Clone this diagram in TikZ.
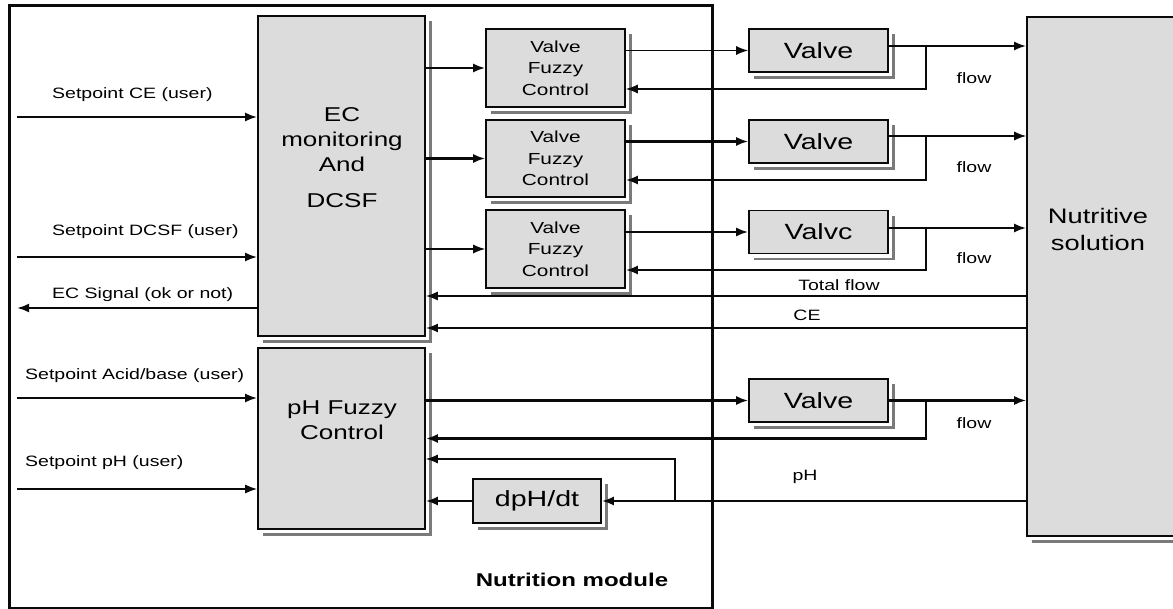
\documentclass[tikz,border=0pt]{standalone}
\usepackage{fontspec}
\setmainfont{Liberation Sans}
\newfontfamily\lab[FakeStretch=1.3]{Liberation Sans}
\usetikzlibrary{arrows.meta,calc}
\definecolor{boxgray}{HTML}{DCDCDC}
\definecolor{shadegray}{HTML}{7A7A7A}
\definecolor{ink}{HTML}{0A0A0A}
\begin{document}
\begin{tikzpicture}[x=1pt,y=-1pt,
  box/.style={draw=ink, fill=boxgray, line width=1.6pt, inner sep=0pt},
  frame/.style={draw=ink, line width=3pt, inner sep=0pt},
  txt/.style={inner sep=0pt, text=black, align=center},
  arr/.style={draw=ink, -{Latex[length=12pt,width=9pt]}},
  thk/.style={line width=2.2pt},
  thn/.style={line width=1.3pt},
  mid/.style={line width=1.7pt},
  f15/.style={font=\lab\fontsize{15}{18}\selectfont},
  f16/.style={font=\lab\fontsize{16}{21.5}\selectfont},
  f20/.style={font=\lab\fontsize{20}{25}\selectfont},
  f21/.style={font=\lab\fontsize{21}{27}\selectfont},
  f22/.style={font=\lab\fontsize{22}{26}\selectfont},
  fbold/.style={font=\lab\bfseries\fontsize{18.5}{22}\selectfont},
  shade/.style={draw=shadegray, line width=2.5pt}
]
\useasboundingbox (0,0) rectangle (1173,609);
\clip (0,0) rectangle (1173,609);

% module frame
\node[frame, minimum width=703pt, minimum height=602pt] (module) at (360.5,307) {};
\node[txt, fbold] (modlabel) at (572,580) {Nutrition module};

% blocks
\node[box, minimum width=167pt, minimum height=320pt] (ec) at (341.5,176) {};
\node[txt, f20] (ectext) at (342,158) {EC\\monitoring\\And\\[11pt]DCSF};
\node[box, minimum width=167pt, minimum height=181pt] (ph) at (341.5,438.5) {};
\node[txt, f20] (phtext) at (342,420) {pH Fuzzy\\Control};

\node[box, minimum width=139pt, minimum height=78pt, f16, txt] (vfc1) at (555.5,68) {Valve\\Fuzzy\\Control};
\node[box, minimum width=139pt, minimum height=77pt, f16, txt] (vfc2) at (555.5,158.5) {Valve\\Fuzzy\\Control};
\node[box, minimum width=139pt, minimum height=78pt, f16, txt] (vfc3) at (555.5,249) {Valve\\Fuzzy\\Control};

\node[box, minimum width=139pt, minimum height=43pt, f22, txt] (valve1) at (818.5,50.5) {Valve};
\node[box, minimum width=139pt, minimum height=43pt, f22, txt] (valve2) at (818.5,141.5) {Valve};
\node[box, minimum width=139pt, minimum height=43pt, f22, txt] (valve3) at (818.5,232) {Valvc};
\node[box, minimum width=139pt, minimum height=43pt, f22, txt] (valve4) at (818.5,400.5) {Valve};

\node[box, minimum width=160pt, minimum height=519pt] (ns) at (1107,276.5) {};
\node[txt, f21] (nstext) at (1098,229) {Nutritive\\solution};

\node[box, minimum width=128pt, minimum height=44pt, f22, txt] (dph) at (537,501) {dpH/dt};

% shadows
\foreach \n in {ec,ph,vfc1,vfc2,vfc3,valve1,valve2,valve3,valve4,ns,dph}
  \draw[shade] ([xshift=6pt,yshift=-4.5pt]\n.south west) -| ([xshift=4.5pt,yshift=-6pt]\n.north east);

% user inputs / outputs
\coordinate (in1) at (17,117);
\coordinate (in2) at (17,257);
\coordinate (out1) at (17,308);
\coordinate (in3) at (17,398);
\coordinate (in4) at (17,489);
\draw[arr, thk] (in1) -- (in1 -| ec.west);
\draw[arr, thk] (in2) -- (in2 -| ec.west);
\draw[arr, thk] (out1 -| ec.west) -- (out1);
\draw[arr, thk] (in3) -- (in3 -| ph.west);
\draw[arr, mid] (in4) -- (in4 -| ph.west);

\node[txt, f15, anchor=west] (l1) at (52,95) {Setpoint CE (user)};
\node[txt, f15, anchor=west] (l2) at (52,232) {Setpoint DCSF (user)};
\node[txt, f15, anchor=west] (l3) at (52,295) {EC Signal (ok or not)};
\node[txt, f15, anchor=west] (l4) at (25,376) {Setpoint Acid/base (user)};
\node[txt, f15, anchor=west] (l5) at (25,463) {Setpoint pH (user)};

% EC -> valve fuzzy controls
\draw[arr, thk] (ec.east |- vfc1.west) -- (vfc1.west);
\draw[arr, thk] (ec.east |- vfc2.west) -- (vfc2.west);
\draw[arr, thn] (ec.east |- vfc3.west) -- (vfc3.west);

% valve fuzzy control -> valves
\draw[arr, thn] (vfc1.east |- valve1.west) -- (valve1.west);
\draw[arr, thk] (vfc2.east |- valve2.west) -- (valve2.west);
\draw[arr, thk] (vfc3.east |- valve3.west) -- (valve3.west);

% valves -> nutritive solution, with flow feedback
\coordinate (b1) at (926,46);
\coordinate (b2) at (926,136);
\coordinate (b3) at (926,228);
\draw[arr, thk] (valve1.east |- b1) -- (b1 -| ns.west);
\draw[arr, thn] (valve2.east |- b2) -- (b2 -| ns.west);
\draw[arr, thk] (valve3.east |- b3) -- (b3 -| ns.west);
\draw[arr, thn] (b1) |- ([yshift=-21pt]vfc1.east);
\draw[arr, thk] (b2) |- ([yshift=-21.5pt]vfc2.east);
\draw[arr, thk] (b3) |- ([yshift=-21pt]vfc3.east);
\node[txt, f15] (fl1) at (974,78) {flow};
\node[txt, f15] (fl2) at (974,167) {flow};
\node[txt, f15] (fl3) at (974,258) {flow};

% total flow and CE
\coordinate (tf) at (0,296);
\coordinate (ce) at (0,328);
\draw[arr, mid] (ns.west |- tf) -- (ec.east |- tf);
\draw[arr, thk] (ns.west |- ce) -- (ec.east |- ce);
\node[txt, f15] (tflab) at (839,285) {Total flow};
\node[txt, f15] (celab) at (807,315) {CE};

% pH loop
\draw[arr, thk] (ph.east |- valve4.west) -- (valve4.west);
\coordinate (b4) at (926,400.5);
\draw[arr, thk] (valve4.east) -- (valve4.east -| ns.west);
\draw[arr, line width=2.6pt] (b4) |- (ph.east);
\node[txt, f15] (fl4) at (974,423) {flow};

\coordinate (b5) at (675,501);
\draw[arr, thk] (dph.east -| ns.west) -- (dph.east);
\draw[arr, thn] (b5) |- ([yshift=-20.5pt]ph.east);
\draw[arr, thk] (dph.west) -- (dph.west -| ph.east);
\node[txt, f15] (phlab) at (805,477) {pH};
\end{tikzpicture}
\end{document}
